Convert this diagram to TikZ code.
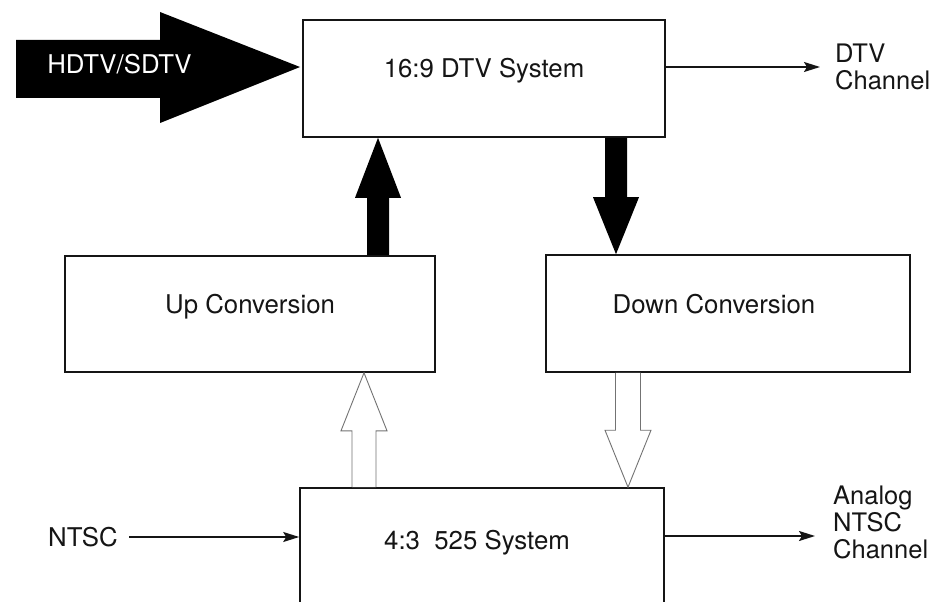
\documentclass[tikz,border=0pt]{standalone}
\usepackage{fontspec}
\setmainfont{TeX Gyre Heros}
\usetikzlibrary{arrows.meta,calc}
\definecolor{ink}{HTML}{151515}
\tikzset{
  box/.style={draw=ink, line width=1.6pt, fill=white, inner sep=0pt},
  lbl/.style={inner sep=0pt, text height=18.5pt, text depth=0pt,
              font=\fontsize{25.8}{27}\selectfont, text=ink},
  side/.style={inner sep=0pt, align=left, anchor=north west,
               font=\fontsize{25.5}{27}\selectfont, text=ink},
  thinarrow/.style={draw=ink, line width=1.6pt,
                    -{Stealth[length=16pt,width=10pt,inset=3pt]}},
  hollow/.style={draw=black!55, line width=0.9pt, fill=white},
}
\begin{document}
\begin{tikzpicture}[x=1pt,y=-1pt]
\useasboundingbox (0,0) rectangle (946,602);
\clip (0,0) rectangle (946,602);
\fill[white] (0,0) rectangle (946,602);

% system blocks
\node[box, minimum width=362pt, minimum height=117pt] (dtv)  at (484,78.5) {};
\node[box, minimum width=370pt, minimum height=116pt] (up)   at (250,314) {};
\node[box, minimum width=364pt, minimum height=117pt] (down) at (728,313.5) {};
\node[box, minimum width=364pt, minimum height=140pt] (sys)  at (482,558) {};

\node[lbl] (dtvt)  at ([yshift=10pt]dtv.center) {16:9 DTV System};
\node[lbl] (upt)   at ([yshift=10pt]up.center) {Up Conversion};
\node[lbl] (downt) at ([xshift=-14pt,yshift=9.5pt]down.center) {Down Conversion};
\node[lbl] (syst)  at ([xshift=-5pt,yshift=-53pt]sys.north) {4:3\ \ 525 System};

% HDTV/SDTV input
\coordinate (hdtip) at (300,67);
\fill[black] (16,40) -- (160,40) -- (160,12) -- (hdtip) -- (160,123)
  -- (160,98) -- (16,98) -- cycle;
\node[lbl, text=white] (hdtv) at (119.5,64) {HDTV/SDTV};

% up conversion -> DTV system
\coordinate (ua) at (378,0 |- up.north);
\coordinate (ub) at (378,0 |- dtv.south);
\fill[black] let \p1=(ua), \p2=(ub) in
  (\x1-11pt,\y1) -- (\x1-11pt,\y2-60pt) -- (\x1-23pt,\y2-60pt) -- (\x2,\y2)
  -- (\x1+23pt,\y2-60pt) -- (\x1+11pt,\y2-60pt) -- (\x1+11pt,\y1) -- cycle;

% DTV system -> down conversion
\coordinate (da) at (616,0 |- dtv.south);
\coordinate (db) at (616,0 |- down.north);
\fill[black] let \p1=(da), \p2=(db) in
  (\x1-11pt,\y1) -- (\x1-11pt,\y2+57pt) -- (\x1-23pt,\y2+57pt) -- (\x2,\y2)
  -- (\x1+23pt,\y2+57pt) -- (\x1+11pt,\y2+57pt) -- (\x1+11pt,\y1) -- cycle;

% 4:3 system -> up conversion
\coordinate (wa) at (364,0 |- sys.north);
\coordinate (wb) at (364,0 |- up.south);
\draw[hollow] let \p1=(wa), \p2=(wb) in
  (\x1-12pt,\y1) -- (\x1-12pt,\y2-58pt) -- (\x1-23pt,\y2-58pt) -- (\x2,\y2)
  -- (\x1+23pt,\y2-58pt) -- (\x1+12pt,\y2-58pt) -- (\x1+12pt,\y1);

% down conversion -> 4:3 system
\coordinate (va) at (628,0 |- down.south);
\coordinate (vb) at (628,0 |- sys.north);
\draw[hollow] let \p1=(va), \p2=(vb) in
  (\x1-12.5pt,\y1) -- (\x1-12.5pt,\y2+57pt) -- (\x1-23pt,\y2+57pt) -- (\x2,\y2)
  -- (\x1+23pt,\y2+57pt) -- (\x1+12.5pt,\y2+57pt) -- (\x1+12.5pt,\y1);

% outputs and analog input
\coordinate (d0) at (dtv.east |- 0,67);
\coordinate (dtvout) at (820,67);
\draw[thinarrow] (d0) -- (dtvout);
\node[side] (dtvch) at (835,44) {DTV\\Channel};

\node[lbl, anchor=east] (ntsc) at (118,537) {NTSC};
\coordinate (n0) at ([xshift=11pt]ntsc.east);
\draw[thinarrow] (n0) -- (n0 -| sys.west);

\coordinate (a0) at (sys.east |- 0,536);
\coordinate (anaout) at (815,536);
\draw[thinarrow] (a0) -- (anaout);
\node[side] (anach) at (833,486) {Analog\\NTSC\\Channel};
\end{tikzpicture}
\end{document}
